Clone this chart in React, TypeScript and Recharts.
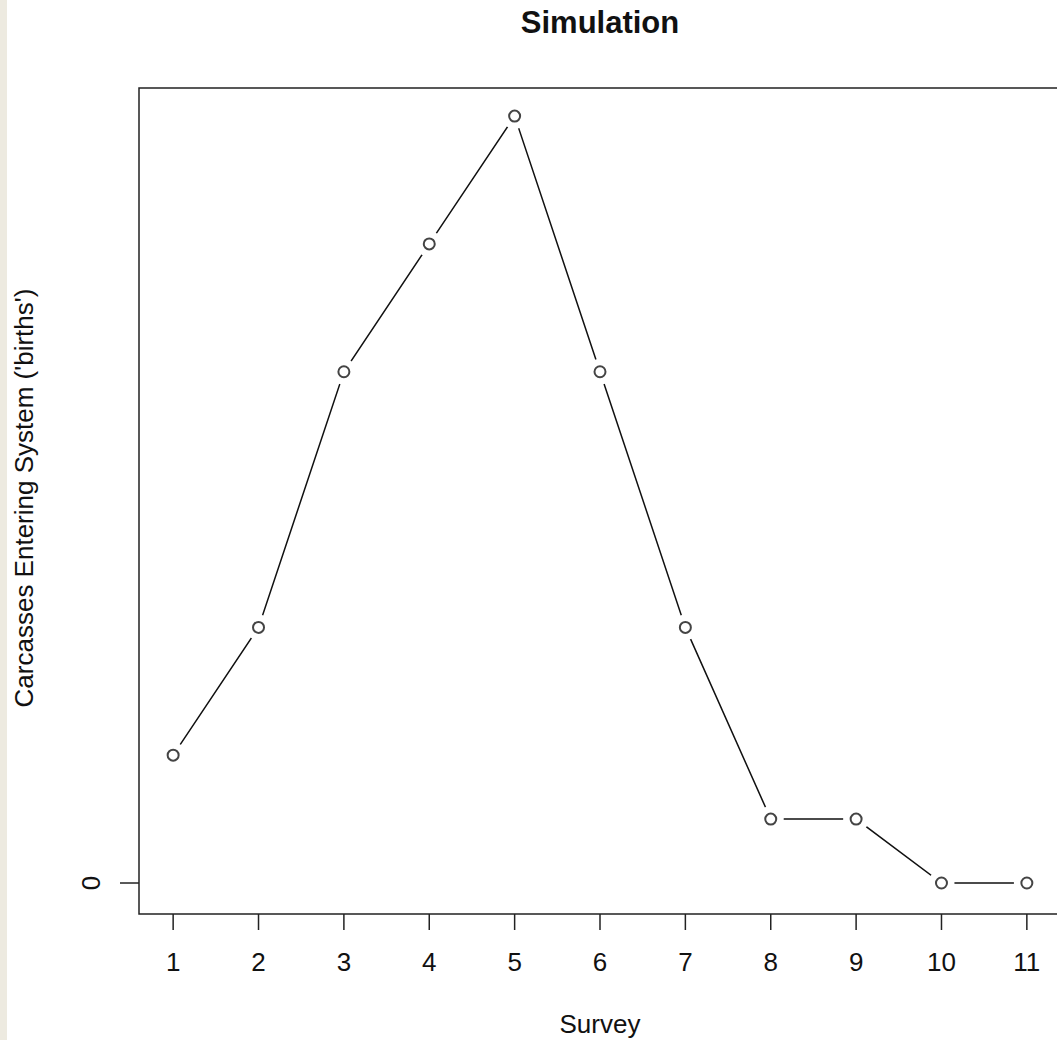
import React from 'react';
import { LineChart, Line, XAxis, YAxis, ReferenceArea } from 'recharts';

// Survey index and simulated carcass "births" per survey
const surveys = [1, 2, 3, 4, 5, 6, 7, 8, 9, 10, 11];
const births = [2, 4, 8, 10, 12, 8, 4, 1, 1, 0, 0];
const xTicks = [1, 2, 3, 4, 5, 6, 7, 8, 9, 10, 11];
const yTicks = [0];

const FONT = '"Liberation Sans", Arial, Helvetica, sans-serif';

const data = surveys.map((s, i) => ({ survey: s, births: births[i] }));

// R-style type="b" point: white halo hides the line near the marker
function OpenDot(props: any) {
  const { cx, cy, index } = props;
  if (cx == null || cy == null) return null;
  return (
    <g key={`dot-${index}`}>
      <circle cx={cx} cy={cy} r={13} fill="#fff" stroke="none" />
      <circle cx={cx} cy={cy} r={5.5} fill="#fff" stroke="#444" strokeWidth={2} />
    </g>
  );
}

function YTick(props: any) {
  const { x, y, payload } = props;
  const bx = x - 18;
  return (
    <text
      x={bx}
      y={y}
      transform={`rotate(-90, ${bx}, ${y})`}
      textAnchor="middle"
      fontFamily={FONT}
      fontSize={26}
      fill="#111"
    >
      {payload.value}
    </text>
  );
}

function XLabel(props: any) {
  const { viewBox } = props;
  return (
    <text
      x={viewBox.x + viewBox.width / 2}
      y={1033}
      textAnchor="middle"
      fontFamily={FONT}
      fontSize={26}
      fill="#111"
    >
      Survey
    </text>
  );
}

function YLabel() {
  return (
    <text
      x={33}
      y={498}
      transform="rotate(-90, 33, 498)"
      textAnchor="middle"
      fontFamily={FONT}
      fontSize={26}
      fill="#111"
    >
      Carcasses Entering System ('births')
    </text>
  );
}

export default function App() {
  return (
    <div
      style={{
        position: 'absolute',
        left: 0,
        top: 0,
        width: 1057,
        height: 1040,
        overflow: 'hidden',
        background: '#fff',
      }}
    >
      <div
        style={{
          position: 'absolute',
          left: 0,
          top: 0,
          width: 7,
          height: 1040,
          background: '#EDEAE0',
        }}
      />
      <div
        style={{
          position: 'absolute',
          left: 0,
          width: 1200,
          top: 7,
          textAlign: 'center',
          fontFamily: FONT,
          fontWeight: 'bold',
          fontSize: 31,
          lineHeight: '31px',
          color: '#111',
        }}
      >
        <span style={{ position: 'absolute', left: 600, transform: 'translateX(-50%)', whiteSpace: 'nowrap' }}>
          Simulation
        </span>
      </div>
      <LineChart
        width={1080}
        height={1040}
        data={data}
        margin={{ top: 88, right: 19, bottom: 0, left: 0 }}
        style={{ position: 'absolute', left: 0, top: 0 }}
      >
        <XAxis
          dataKey="survey"
          type="number"
          domain={[0.6, 11.4]}
          ticks={xTicks}
          interval={0}
          height={126}
          axisLine={false}
          tickSize={16}
          tickMargin={23}
          tickLine={{ stroke: '#222', strokeWidth: 1.5 }}
          tick={{ fontFamily: FONT, fontSize: 26, fill: '#111' }}
          label={<XLabel />}
        />
        <YAxis
          type="number"
          domain={[-0.485, 12.44]}
          ticks={yTicks}
          width={139}
          axisLine={false}
          tickSize={19}
          tickLine={{ stroke: '#222', strokeWidth: 1.5 }}
          tick={<YTick />}
          label={<YLabel />}
        />
        <ReferenceArea
          x1={0.6}
          x2={11.4}
          y1={-0.485}
          y2={12.44}
          fill="none"
          stroke="#222"
          strokeWidth={1.5}
          fillOpacity={0}
          ifOverflow="visible"
        />
        <Line
          dataKey="births"
          stroke="#111"
          strokeWidth={1.5}
          type="linear"
          dot={<OpenDot />}
          activeDot={false}
          isAnimationActive={false}
        />
      </LineChart>
    </div>
  );
}
